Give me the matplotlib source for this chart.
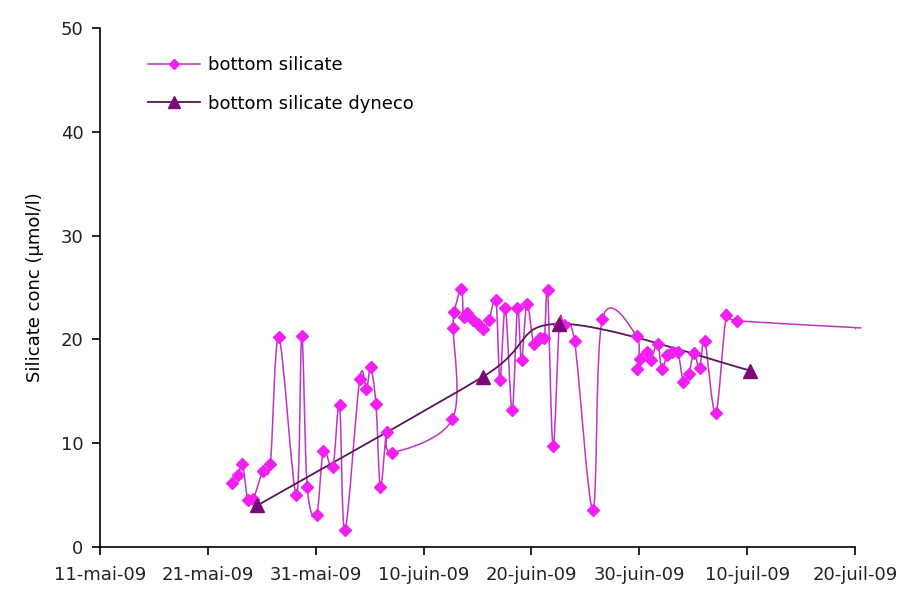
import matplotlib
matplotlib.use("Agg")
import matplotlib.dates as mdates
import matplotlib.pyplot as plt
import numpy as np
import pandas as pd
from matplotlib.lines import Line2D
from matplotlib.patches import PathPatch
from matplotlib.path import Path

plt.rcParams["font.family"] = ["DejaVu Sans"]

# Bottom silicate samples (µmol/l)
silicate_times = [
    "2009-05-23 05:00", "2009-05-23 19:00", "2009-05-24 05:00", "2009-05-24 17:00",
    "2009-05-25 05:00", "2009-05-26 02:00", "2009-05-26 19:00", "2009-05-27 14:00",
    "2009-05-29 05:00", "2009-05-29 17:00", "2009-05-30 05:00", "2009-05-31 02:00",
    "2009-05-31 17:00", "2009-06-01 14:00", "2009-06-02 05:00", "2009-06-02 17:00",
    "2009-06-04 02:00", "2009-06-04 17:00", "2009-06-05 02:00", "2009-06-05 14:00",
    "2009-06-06 00:00", "2009-06-06 14:00", "2009-06-07 02:00", "2009-06-12 16:00",
    "2009-06-12 18:00", "2009-06-12 20:00", "2009-06-13 12:00", "2009-06-13 17:00",
    "2009-06-14 00:00", "2009-06-14 14:00", "2009-06-15 02:00", "2009-06-15 12:00",
    "2009-06-16 02:00", "2009-06-16 17:00", "2009-06-17 02:00", "2009-06-17 14:00",
    "2009-06-18 05:00", "2009-06-18 17:00", "2009-06-19 02:00", "2009-06-19 14:00",
    "2009-06-20 05:00", "2009-06-20 19:00", "2009-06-21 05:00", "2009-06-21 12:00",
    "2009-06-22 00:00", "2009-06-22 14:00", "2009-06-23 00:00", "2009-06-24 00:00",
    "2009-06-25 17:00", "2009-06-26 14:00", "2009-06-29 18:00", "2009-06-29 20:00",
    "2009-06-30 02:00", "2009-06-30 17:00", "2009-07-01 01:00", "2009-07-01 17:00",
    "2009-07-02 02:00", "2009-07-02 14:00", "2009-07-03 00:00", "2009-07-03 14:00",
    "2009-07-04 02:00", "2009-07-04 14:00", "2009-07-05 02:00", "2009-07-05 14:00",
    "2009-07-06 02:00", "2009-07-07 02:00", "2009-07-08 02:00", "2009-07-09 02:00",
    "2009-07-20 14:00",
]
silicate_values = [
    6.2, 6.9, 8.0, 4.5,
    4.6, 7.3, 8.0, 20.2,
    5.0, 20.3, 5.8, 3.1,
    9.2, 7.7, 13.7, 1.6,
    16.2, 15.2, 17.3, 13.8,
    5.8, 11.1, 9.1, 12.3,
    21.1, 22.6, 24.9, 22.2,
    22.5, 21.9, 21.5, 21.0,
    21.9, 23.8, 16.1, 23.0,
    13.2, 23.0, 18.0, 23.4,
    19.6, 20.1, 20.1, 24.8,
    9.7, 21.4, 21.4, 19.8,
    3.6, 22.0, 20.3, 17.1,
    18.1, 18.8, 18.0, 19.6,
    17.1, 18.5, 18.8, 18.8,
    15.9, 16.7, 18.7, 17.2,
    19.8, 12.9, 22.3, 21.8,
    21.1,
]

# Dyneco bottom silicate
dyneco_times = ["2009-05-25 14:00", "2009-06-15 12:00", "2009-06-22 14:00", "2009-07-10 07:00"]
dyneco_values = [4.0, 16.4, 21.5, 17.0]

tick_dates = ["2009-05-11", "2009-05-21", "2009-05-31", "2009-06-10",
              "2009-06-20", "2009-06-30", "2009-07-10", "2009-07-20"]
tick_labels = ["11-mai-09", "21-mai-09", "31-mai-09", "10-juin-09",
               "20-juin-09", "30-juin-09", "10-juil-09", "20-juil-09"]
y_ticks = [0, 10, 20, 30, 40, 50]


def smooth_path(x, y):
    """Bezier path through the points, spreadsheet-style smoothed line."""
    pts = np.column_stack([x, y])
    padded = np.vstack([pts[0], pts, pts[-1]])
    verts = [pts[0]]
    codes = [Path.MOVETO]
    for i in range(len(pts) - 1):
        p0, p1, p2, p3 = padded[i], padded[i + 1], padded[i + 2], padded[i + 3]
        c1 = p1 + (p2 - p0) / 6.0
        c2 = p2 - (p3 - p1) / 6.0
        verts += [c1, c2, p2]
        codes += [Path.CURVE4] * 3
    return Path(verts, codes)


sil_x = mdates.date2num(pd.to_datetime(silicate_times))
dyn_x = mdates.date2num(pd.to_datetime(dyneco_times))

fig = plt.figure(figsize=(9, 5.91), dpi=100)
ax = fig.add_axes([0.1111, 0.0745, 0.8389, 0.8782])

sil_line = "#C033C0"
sil_marker = "#F020F0"
dyn_line = "#5C1458"
dyn_marker = "#7A0A78"

ax.add_patch(PathPatch(smooth_path(sil_x, silicate_values), facecolor="none",
                       edgecolor=sil_line, lw=1.1, clip_on=False, zorder=2))
ax.add_patch(PathPatch(smooth_path(dyn_x, dyneco_values), facecolor="none",
                       edgecolor=dyn_line, lw=1.3, zorder=3))
ax.plot(sil_x, silicate_values, ls="none", marker="D", ms=6.5,
        color=sil_marker, mec=sil_marker, zorder=4)
ax.plot(dyn_x, dyneco_values, ls="none", marker="^", ms=10,
        color=dyn_marker, mec=dyn_marker, zorder=5)

ax.set_xlim(mdates.date2num(pd.Timestamp(tick_dates[0])),
            mdates.date2num(pd.Timestamp(tick_dates[-1])))
ax.set_ylim(0, 50)
ax.set_xticks(mdates.date2num(pd.to_datetime(tick_dates)))
ax.set_xticklabels(tick_labels)
ax.set_yticks(y_ticks)
ax.set_ylabel("Silicate conc (µmol/l)", fontsize=13, labelpad=12)

for side in ("top", "right"):
    ax.spines[side].set_visible(False)
for side in ("left", "bottom"):
    ax.spines[side].set_linewidth(1.2)
ax.tick_params(axis="both", direction="out", length=6, width=1.2, labelsize=13,
               color="black", labelcolor="#222222")
ax.tick_params(axis="x", pad=8)
ax.tick_params(axis="y", pad=6)

handles = [
    Line2D([], [], color=sil_line, lw=1.1, marker="D", ms=5.5,
           mfc=sil_marker, mec=sil_marker),
    Line2D([], [], color=dyn_line, lw=1.3, marker="^", ms=9,
           mfc=dyn_marker, mec=dyn_marker),
]
fig.legend(handles, ["bottom silicate", "bottom silicate dyneco"],
           loc="upper left", bbox_to_anchor=(148 / 900, 1 - 56 / 591),
           frameon=False, fontsize=13, handlelength=2.9, handletextpad=0.45,
           labelspacing=1.15, borderpad=0, borderaxespad=0)

fig.savefig("out.png", dpi=100)
